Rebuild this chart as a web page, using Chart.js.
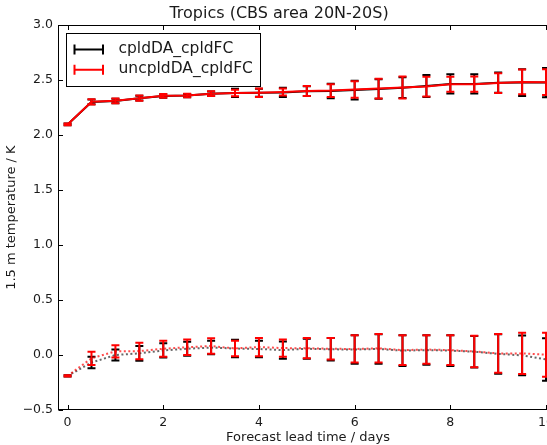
<!DOCTYPE html>
<html>
<head>
<meta charset="utf-8">
<script src="https://cdn.jsdelivr.net/npm/chart.js@4.4.0/dist/chart.umd.min.js"></script>
<style>
  html, body { margin: 0; padding: 0; background: #fff; overflow: hidden; }
  #wrap { width: 560px; height: 445px; }
</style>
</head>
<body>
<div id="wrap"><canvas id="t2mChart" width="560" height="445"></canvas></div>
<script>
// lead times (days) and the two experiments
const leadDays = [0, 0.5, 1, 1.5, 2, 2.5, 3, 3.5, 4, 4.5, 5, 5.5, 6, 6.5, 7, 7.5, 8, 8.5, 9, 9.5, 10];
const seriesNames = ['cpldDA_cpldFC', 'uncpldDA_cpldFC'];
const seriesColors = ['#000000', '#ff0000'];

// RMSE (solid) with confidence half-widths
const rmseCpl    = [2.097, 2.302, 2.311, 2.336, 2.357, 2.360, 2.376, 2.384, 2.385, 2.388, 2.400, 2.402, 2.410, 2.420, 2.432, 2.448, 2.466, 2.466, 2.477, 2.478, 2.478];
const rmseCplErr = [0.008, 0.022, 0.020, 0.022, 0.016, 0.015, 0.020, 0.038, 0.036, 0.042, 0.044, 0.066, 0.085, 0.088, 0.095, 0.100, 0.087, 0.087, 0.092, 0.121, 0.133];
const rmseUnc    = [2.097, 2.303, 2.312, 2.336, 2.358, 2.360, 2.377, 2.384, 2.386, 2.392, 2.402, 2.405, 2.415, 2.424, 2.434, 2.442, 2.462, 2.464, 2.474, 2.484, 2.482];
const rmseUncErr = [0.008, 0.024, 0.022, 0.024, 0.017, 0.016, 0.022, 0.030, 0.038, 0.032, 0.045, 0.058, 0.075, 0.090, 0.100, 0.090, 0.068, 0.070, 0.090, 0.113, 0.118];

// mean bias (dotted) with confidence half-widths
const biasCpl    = [-0.190, -0.068, 0.000, 0.015, 0.042, 0.057, 0.068, 0.059, 0.055, 0.045, 0.057, 0.052, 0.050, 0.055, 0.040, 0.045, 0.040, 0.030, 0.010, -0.003, -0.040];
const biasCplErr = [0.006, 0.053, 0.050, 0.067, 0.064, 0.064, 0.062, 0.080, 0.076, 0.079, 0.090, 0.102, 0.130, 0.135, 0.140, 0.134, 0.140, 0.143, 0.180, 0.180, 0.193];
const biasUnc    = [-0.190, -0.030, 0.033, 0.036, 0.057, 0.071, 0.082, 0.060, 0.073, 0.063, 0.062, 0.057, 0.055, 0.061, 0.045, 0.050, 0.045, 0.032, 0.015, 0.015, 0.003];
const biasUncErr = [0.006, 0.060, 0.055, 0.075, 0.073, 0.071, 0.070, 0.070, 0.083, 0.079, 0.092, 0.097, 0.124, 0.130, 0.136, 0.130, 0.136, 0.144, 0.176, 0.188, 0.200];

const xTickValues = [0, 2, 4, 6, 8, 10];
const yTickValues = [-0.5, 0.0, 0.5, 1.0, 1.5, 2.0, 2.5, 3.0];

const FONT = 'DejaVu Sans';
const TEXT = '#1a1a1a';

function toPoints(vals) {
  return leadDays.map((d, i) => ({ x: d, y: vals[i] }));
}

function lineSet(name, color, vals, err, dotted, order) {
  return {
    label: name,
    data: toPoints(vals),
    err: err,
    barColor: color,
    borderColor: dotted ? (color === '#000000' ? 'rgba(0,0,0,0.6)' : 'rgba(255,0,0,0.7)') : color,
    borderWidth: 2,
    borderDash: dotted ? [2, 2.5] : [],
    pointRadius: 0,
    tension: 0,
    fill: false,
    order: order
  };
}

// vertical error bars with caps, drawn right after their own line
const errorBars = {
  id: 'errorBars',
  afterDatasetDraw(chart, args) {
    const ds = chart.data.datasets[args.index];
    if (!ds.err) return;
    const { ctx, chartArea, scales: { x, y } } = chart;
    ctx.save();
    ctx.beginPath();
    ctx.rect(chartArea.left, chartArea.top, chartArea.right - chartArea.left, chartArea.bottom - chartArea.top);
    ctx.clip();
    ctx.strokeStyle = ds.barColor;
    ctx.lineWidth = 2;
    ds.data.forEach((p, i) => {
      const px = x.getPixelForValue(p.x);
      const top = y.getPixelForValue(p.y + ds.err[i]);
      const bot = y.getPixelForValue(p.y - ds.err[i]);
      ctx.beginPath();
      ctx.moveTo(px, top); ctx.lineTo(px, bot);
      ctx.moveTo(px - 4, top); ctx.lineTo(px + 4, top);
      ctx.moveTo(px - 4, bot); ctx.lineTo(px + 4, bot);
      ctx.stroke();
    });
    ctx.restore();
  }
};

// axes box with inward ticks on all four sides, then the legend
const frameAndLegend = {
  id: 'frameAndLegend',
  afterDraw(chart) {
    const { ctx, chartArea: ca, scales: { x, y } } = chart;
    const L = Math.round(ca.left) + 0.5, R = Math.round(ca.right) - 0.5;
    const T = Math.round(ca.top) + 0.5, B = Math.round(ca.bottom) - 0.5;
    const tl = 4.5;
    ctx.save();
    ctx.strokeStyle = '#000';
    ctx.lineWidth = 1;
    ctx.strokeRect(L, T, R - L, B - T);
    ctx.beginPath();
    x.ticks.forEach(t => {
      const px = Math.round(x.getPixelForValue(t.value)) + 0.5;
      ctx.moveTo(px, B); ctx.lineTo(px, B - tl);
      ctx.moveTo(px, T); ctx.lineTo(px, T + tl);
    });
    y.ticks.forEach(t => {
      const py = Math.round(y.getPixelForValue(t.value)) + 0.5;
      ctx.moveTo(L, py); ctx.lineTo(L + tl, py);
      ctx.moveTo(R, py); ctx.lineTo(R - tl, py);
    });
    ctx.stroke();

    // legend
    const bx = L + 8, by = T + 8, bw = 194, bh = 53;
    ctx.fillStyle = '#fff';
    ctx.fillRect(bx, by, bw, bh);
    ctx.strokeStyle = '#000';
    ctx.strokeRect(bx, by, bw, bh);
    ctx.font = '15.5px "' + FONT + '"';
    ctx.textBaseline = 'alphabetic';
    ctx.textAlign = 'left';
    seriesNames.forEach((name, i) => {
      const ry = by + 16 + i * 20.3;
      const x0 = bx + 8, x1 = bx + 36.5;
      ctx.strokeStyle = seriesColors[i];
      ctx.lineWidth = 2;
      ctx.beginPath();
      ctx.moveTo(x0, ry); ctx.lineTo(x1, ry);
      ctx.moveTo(x0, ry - 5); ctx.lineTo(x0, ry + 5);
      ctx.moveTo(x1, ry - 5); ctx.lineTo(x1, ry + 5);
      ctx.stroke();
      ctx.fillStyle = TEXT;
      ctx.fillText(name, bx + 52, ry + 3.5);
    });
    ctx.restore();
  }
};

new Chart(document.getElementById('t2mChart').getContext('2d'), {
  type: 'line',
  data: {
    datasets: [
      lineSet(seriesNames[0], seriesColors[0], rmseCpl, rmseCplErr, false, 3),
      lineSet(seriesNames[0], seriesColors[0], biasCpl, biasCplErr, true, 2),
      lineSet(seriesNames[1], seriesColors[1], rmseUnc, rmseUncErr, false, 1),
      lineSet(seriesNames[1], seriesColors[1], biasUnc, biasUncErr, true, 0)
    ]
  },
  options: {
    responsive: false,
    animation: false,
    devicePixelRatio: 1,
    layout: { padding: { left: 0, right: 2, top: 0, bottom: 0 } },
    plugins: {
      legend: { display: false },
      tooltip: { enabled: false },
      title: {
        display: true,
        text: 'Tropics (CBS area 20N-20S)',
        font: { family: FONT, size: 16, weight: 'normal' },
        color: TEXT,
        padding: { top: 4, bottom: 2 }
      }
    },
    scales: {
      x: {
        type: 'linear',
        min: -0.2,
        max: 10.25,
        afterBuildTicks: s => { s.ticks = xTickValues.map(v => ({ value: v })); },
        afterFit: s => { s.height = 35; },
        grid: { display: false, drawTicks: false },
        border: { display: false },
        ticks: {
          autoSkip: false,
          maxRotation: 0,
          padding: 5,
          color: TEXT,
          font: { family: FONT, size: 12.5 },
          callback: v => String(v)
        },
        title: {
          display: true,
          text: 'Forecast lead time / days',
          color: TEXT,
          font: { family: FONT, size: 13 },
          padding: { top: 0, bottom: 0 }
        }
      },
      y: {
        type: 'linear',
        min: -0.5,
        max: 3.0,
        afterBuildTicks: s => { s.ticks = yTickValues.map(v => ({ value: v })); },
        afterFit: s => { s.width = 58; },
        grid: { display: false, drawTicks: false },
        border: { display: false },
        ticks: {
          autoSkip: false,
          padding: 5,
          color: TEXT,
          font: { family: FONT, size: 12.5 },
          callback: v => v.toFixed(1).replace('-', '\u2212')
        },
        title: {
          display: true,
          text: '1.5 m temperature / K',
          color: TEXT,
          font: { family: FONT, size: 13 },
          padding: { top: 4, bottom: 0 }
        }
      }
    }
  },
  plugins: [errorBars, frameAndLegend]
});
</script>
</body>
</html>
